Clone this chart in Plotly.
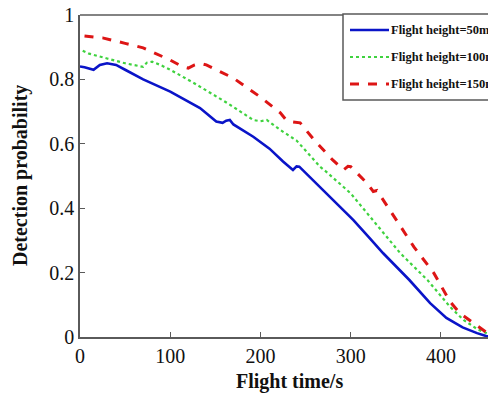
import plotly.graph_objects as go

t50 = [0, 5, 15, 22, 30, 40, 50, 70, 100, 120, 133, 151, 158, 162, 166, 170, 192, 210, 225, 236, 240, 243, 250, 273, 303, 320, 336, 365, 388, 406, 424, 440, 450, 460]
p50 = [0.84, 0.838, 0.83, 0.845, 0.85, 0.845, 0.83, 0.80, 0.762, 0.73, 0.711, 0.669, 0.665, 0.672, 0.674, 0.66, 0.622, 0.585, 0.545, 0.519, 0.53, 0.529, 0.51, 0.446, 0.363, 0.31, 0.26, 0.177, 0.105, 0.059, 0.03, 0.012, 0.003, 0.0]

t100 = [3, 10, 30, 50, 70, 74, 80, 89, 100, 126, 163, 192, 200, 207, 222, 240, 266, 273, 300, 336, 355, 385, 410, 425, 440, 455, 461]
p100 = [0.889, 0.88, 0.865, 0.85, 0.839, 0.852, 0.855, 0.845, 0.83, 0.789, 0.727, 0.674, 0.67, 0.674, 0.643, 0.61, 0.529, 0.513, 0.446, 0.323, 0.26, 0.177, 0.094, 0.053, 0.025, 0.006, 0.0]

t150 = [5, 25, 50, 70, 100, 114, 120, 127, 133, 140, 170, 200, 222, 229, 236, 244, 260, 280, 292, 297, 300, 305, 318, 325, 329, 335, 351, 370, 392, 410, 421, 436, 450, 458, 462]
p150 = [0.935, 0.929, 0.912, 0.898, 0.86, 0.839, 0.835, 0.845, 0.85, 0.845, 0.804, 0.745, 0.696, 0.672, 0.668, 0.665, 0.61, 0.55, 0.519, 0.53, 0.529, 0.515, 0.478, 0.452, 0.455, 0.43, 0.363, 0.28, 0.199, 0.11, 0.074, 0.043, 0.015, 0.003, 0.0]

names = ["Flight height=50m", "Flight height=100m", "Flight height=150m"]
xticks = [0, 100, 200, 300, 400]
yticks = [0, 0.2, 0.4, 0.6, 0.8, 1]
yticklabels = ["0", "0.2", "0.4", "0.6", "0.8", "1"]
xtitle = "Flight time/s"
ytitle = "Detection probability"

SERIF = "Liberation Serif"
AX = "#5a5a5a"
colors = ["#0a14c8", "#3fd23f", "#dd1515"]
dashes = ["solid", "dot", "dash"]
widths = [2.6, 2.2, 3]

fig = go.Figure()
for tt, pp, nm, c, d, w in zip([t50, t100, t150], [p50, p100, p150], names, colors, dashes, widths):
    fig.add_trace(go.Scatter(x=tt, y=pp, mode="lines", name=nm, showlegend=False,
                             line=dict(color=c, width=w, dash=d)))
# right-side inner ticks
fig.add_trace(go.Scatter(x=[None], y=[None], yaxis="y2", showlegend=False, hoverinfo="skip"))

# page pixel -> paper coordinate helpers (plot area spans page x 80..496, y 15..337)
def px(x):
    return (x - 80) / 416

def py(y):
    return (337 - y) / 322

shapes = [dict(type="line", xref="paper", yref="paper", x0=0, x1=1, y0=1, y1=1,
               line=dict(color=AX, width=1.5)),
          dict(type="rect", xref="paper", yref="paper", x0=px(343), x1=px(520), y0=py(100), y1=py(14),
               fillcolor="white", line=dict(color=AX, width=1.5))]
annotations = []
for i, (nm, c, d, w) in enumerate(zip(names, colors, dashes, widths)):
    yy = py(30 + 27 * i)
    shapes.append(dict(type="line", xref="paper", yref="paper", x0=px(350), x1=px(389), y0=yy, y1=yy,
                       line=dict(color=c, width=w, dash=d)))
    annotations.append(dict(text="<b>" + nm + "</b>", xref="paper", yref="paper", x=px(389), y=yy,
                            xanchor="left", yanchor="middle", showarrow=False,
                            font=dict(size=12.5, family=SERIF, color="#111")))

annotations += [
    dict(text="<b>" + xtitle + "</b>", xref="paper", yref="paper", x=px(289), y=py(381),
         xanchor="center", yanchor="middle", showarrow=False,
         font=dict(size=20, family=SERIF, color="#111")),
    dict(text="<b>" + ytitle + "</b>", xref="paper", yref="paper", x=px(20), y=py(176),
         xanchor="center", yanchor="middle", showarrow=False, textangle=-90,
         font=dict(size=20, family=SERIF, color="#111")),
]

# the page body has an 8px margin, so the figure is 8px smaller and offset
fig.update_layout(
    width=488, height=386,
    margin=dict(l=72, r=0, t=7, b=57),
    paper_bgcolor="white", plot_bgcolor="white",
    font=dict(family=SERIF, color="#111"),
    showlegend=False,
    xaxis=dict(range=[0, 461], tickvals=xticks, ticks="inside", ticklen=5, tickcolor=AX,
               showline=True, linecolor=AX, linewidth=1.5, showgrid=False, zeroline=False,
               tickfont=dict(size=20, family=SERIF), automargin=False, ticklabeloverflow="allow"),
    yaxis=dict(range=[0, 1], tickvals=yticks, ticktext=yticklabels, ticks="inside", ticklen=5,
               tickcolor=AX, showline=True, linecolor=AX, linewidth=1.5, showgrid=False,
               zeroline=False, tickfont=dict(size=20, family=SERIF), automargin=False,
               ticklabeloverflow="allow"),
    yaxis2=dict(range=[0, 1], overlaying="y", side="right", tickvals=[0.2, 0.4, 0.6, 0.8],
                ticks="inside", ticklen=4, tickcolor=AX, showticklabels=False, showline=False,
                showgrid=False, zeroline=False, automargin=False),
    shapes=shapes,
    annotations=annotations,
)

fig.write_html("out.html")
